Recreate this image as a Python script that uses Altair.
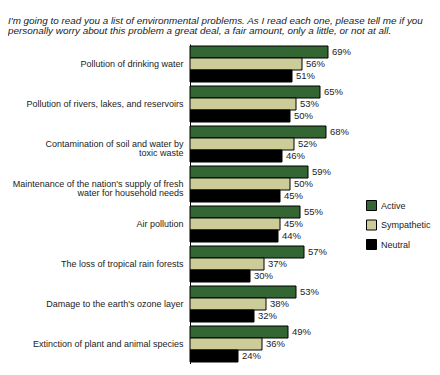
import altair as alt
import pandas as pd

categories = [
    "Pollution of drinking water",
    "Pollution of rivers, lakes, and reservoirs",
    "Contamination of soil and water by|toxic waste",
    "Maintenance of the nation's supply of fresh|water for household needs",
    "Air pollution",
    "The loss of tropical rain forests",
    "Damage to the earth's ozone layer",
    "Extinction of plant and animal species",
]
series = ["Active", "Sympathetic", "Neutral"]
active = [69, 65, 68, 59, 55, 57, 53, 49]
sympathetic = [56, 53, 52, 50, 45, 37, 38, 36]
neutral = [51, 50, 46, 45, 44, 30, 32, 24]
colors = ["#336633", "#CCCC99", "#000000"]

title_lines = [
    "I'm going to read you a list of environmental problems. As I read each one, please tell me if you",
    "personally worry about this problem a great deal, a fair amount, only a little, or not at all.",
]

rows = []
for i, c in enumerate(categories):
    for s, vals in zip(series, [active, sympathetic, neutral]):
        rows.append({"category": c, "series": s, "value": vals[i]})
df = pd.DataFrame(rows)

FONT = "Liberation Sans"
TXT = "#222222"

y_enc = alt.Y(
    "category:N",
    sort=categories,
    scale=alt.Scale(paddingInner=0.1, paddingOuter=0.05),
    axis=alt.Axis(
        title=None,
        labelExpr="split(datum.label, '|')",
        labelLineHeight=9,
        labelFontSize=9,
        labelFont=FONT,
        labelColor=TXT,
        labelPadding=7,
        ticks=False,
        domainColor="#000000",
        domainWidth=1,
        labelLimit=260,
    ),
)
yoff = alt.YOffset("series:N", sort=series, scale=alt.Scale(paddingInner=0, paddingOuter=0))
x_enc = alt.X("value:Q", scale=alt.Scale(domain=[0, 85]), axis=None)

bars = alt.Chart(df).mark_bar(stroke="#000000", strokeWidth=1).encode(
    x=x_enc,
    y=y_enc,
    yOffset=yoff,
    color=alt.Color(
        "series:N",
        sort=series,
        scale=alt.Scale(domain=series, range=colors),
        legend=alt.Legend(
            title=None,
            orient="none",
            legendX=176,
            legendY=156,
            symbolType="square",
            symbolSize=100,
            symbolStrokeColor="#000000",
            symbolStrokeWidth=1,
            labelFont=FONT,
            labelFontSize=9,
            labelColor=TXT,
            rowPadding=4.5,
            labelOffset=4,
        ),
    ),
)

labels = alt.Chart(df).transform_calculate(
    lbl="datum.value + '%'"
).mark_text(
    align="left", baseline="middle", dx=4, fontSize=9.5, font=FONT, color=TXT
).encode(
    x=x_enc,
    y=y_enc,
    yOffset=yoff,
    text="lbl:N",
)

chart = (
    alt.layer(bars, labels)
    .properties(
        width=170,
        height=320,
        autosize=alt.AutoSizeParams(type="none"),
        padding={"left": 182, "top": 36, "right": 72, "bottom": 0},
        title=alt.TitleParams(
            text=title_lines,
            anchor="start",
            frame="group",
            dx=-182,
            offset=8,
            font=FONT,
            fontSize=9.9,
            fontStyle="italic",
            fontWeight="normal",
            color=TXT,
            lineHeight=10.5,
        ),
    )
    .configure_view(stroke=None)
)

chart.save("out.html", embed_options={"renderer": "svg", "actions": False})
